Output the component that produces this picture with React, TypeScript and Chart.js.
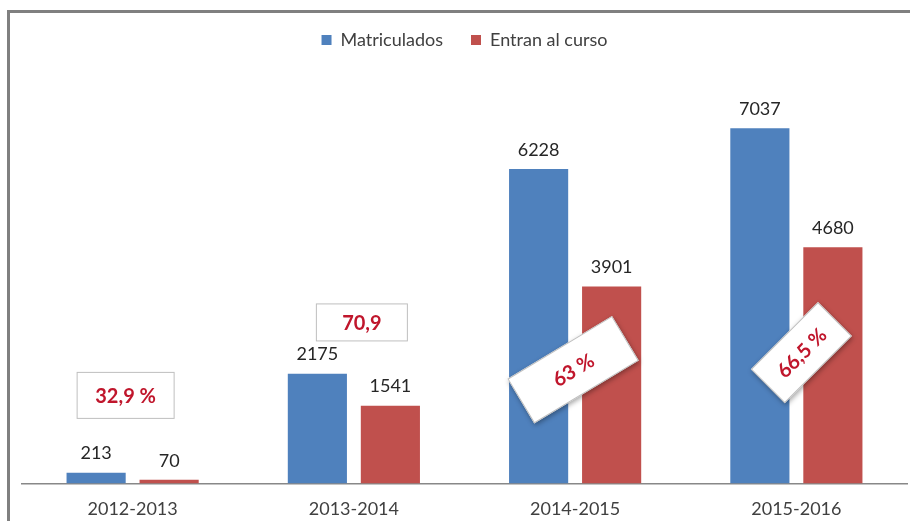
import React, { useEffect, useRef } from 'react';
import { Chart, registerables } from 'chart.js';

Chart.register(...registerables);

const categories = ['2012-2013', '2013-2014', '2014-2015', '2015-2016'];
const matriculados = [213, 2175, 6228, 7037];
const entranAlCurso = [70, 1541, 3901, 4680];
const percentLabels = ['32,9 %', '70,9', '63 %', '66,5 %'];

const FONT = 'Lato, "Open Sans", sans-serif';

// callout layout (position relative to category centre / y value), not data
const callouts = [
  { dx: -7, yValue: 1744, w: 98, h: 47, angle: 0 },
  { dx: 8, yValue: 3190, w: 92, h: 38, angle: 0 },
  { dx: -2, yValue: 2253, w: 122, h: 52, angle: -31 },
  { dx: 5, yValue: 2592, w: 95, h: 48, angle: -45 },
];

const valueLabels = {
  id: 'valueLabels',
  afterDatasetsDraw(chart: any) {
    const ctx = chart.ctx;
    ctx.save();
    ctx.font = `18px ${FONT}`;
    ctx.fillStyle = '#262626';
    ctx.textAlign = 'center';
    ctx.textBaseline = 'middle';
    chart.data.datasets.forEach((ds: any, di: number) => {
      const meta = chart.getDatasetMeta(di);
      meta.data.forEach((bar: any, i: number) => {
        ctx.fillText(String(ds.data[i]), bar.x, bar.y - 19);
      });
    });
    ctx.restore();
  },
};

const calloutPlugin = {
  id: 'callouts',
  afterDraw(chart: any) {
    const ctx = chart.ctx;
    const xs = chart.scales.x;
    const ys = chart.scales.y;
    percentLabels.forEach((label, i) => {
      const c = callouts[i];
      const cx = xs.getPixelForValue(i) + c.dx;
      const cy = ys.getPixelForValue(c.yValue);
      ctx.save();
      ctx.translate(cx, cy);
      ctx.rotate((c.angle * Math.PI) / 180);
      if (c.angle !== 0) {
        ctx.shadowColor = 'rgba(0,0,0,0.35)';
        ctx.shadowBlur = 5;
        ctx.shadowOffsetX = 1;
        ctx.shadowOffsetY = 2;
      }
      ctx.fillStyle = '#ffffff';
      ctx.fillRect(-c.w / 2, -c.h / 2, c.w, c.h);
      ctx.shadowColor = 'transparent';
      ctx.strokeStyle = '#bfbfbf';
      ctx.lineWidth = 1;
      ctx.strokeRect(-c.w / 2 + 0.5, -c.h / 2 + 0.5, c.w - 1, c.h - 1);
      ctx.fillStyle = '#c0162c';
      ctx.font = `bold 20px ${FONT}`;
      ctx.textAlign = 'center';
      ctx.textBaseline = 'middle';
      ctx.fillText(label, 0, 1);
      ctx.restore();
    });
  },
};

export default function App() {
  const ref = useRef<HTMLCanvasElement | null>(null);
  useEffect(() => {
    if (!ref.current) return;
    const chart = new Chart(ref.current, {
      type: 'bar',
      data: {
        labels: categories,
        datasets: [
          {
            label: 'Matriculados',
            data: matriculados,
            backgroundColor: '#4f81bd',
            categoryPercentage: 0.66,
            barPercentage: 0.81,
          },
          {
            label: 'Entran al curso',
            data: entranAlCurso,
            backgroundColor: '#c0504d',
            categoryPercentage: 0.66,
            barPercentage: 0.81,
          },
        ],
      },
      options: {
        animation: false,
        responsive: false,
        maintainAspectRatio: false,
        layout: { padding: { top: 3, left: 22, right: 3, bottom: -14 } },
        plugins: {
          legend: {
            position: 'top',
            labels: {
              boxWidth: 10,
              boxHeight: 10,
              padding: 28,
              color: '#404040',
              font: { size: 18, family: FONT },
            },
          },
          tooltip: { enabled: false },
        },
        scales: {
          x: {
            grid: { display: false, drawTicks: false },
            border: { display: true, color: '#888888', width: 1.5 },
            ticks: { color: '#404040', font: { size: 18, family: FONT }, padding: 15 },
          },
          y: {
            display: false,
            min: 0,
            max: 8410,
          },
        },
      },
      plugins: [valueLabels, calloutPlugin],
    });
    return () => chart.destroy();
  }, []);

  return (
    <div style={{ position: 'fixed', left: 0, top: 0, width: 910, height: 521, background: '#fff' }}>
      <canvas ref={ref} width={910} height={521} style={{ position: 'absolute', left: 0, top: 0 }} />
      <div
        style={{
          position: 'absolute',
          left: 7,
          top: 10,
          width: 903,
          height: 511,
          borderLeft: '3px solid #808080',
          borderTop: '3px solid #808080',
          boxSizing: 'border-box',
          pointerEvents: 'none',
        }}
      />
    </div>
  );
}
